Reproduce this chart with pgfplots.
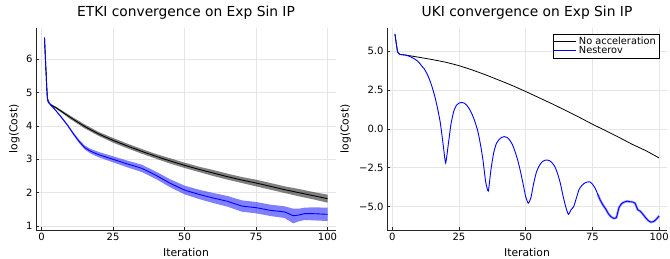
\documentclass[border=0pt]{standalone}
\usepackage{fontspec}
\setmainfont{DejaVu Sans}
\usepackage{pgfplots}
\pgfplotsset{compat=1.18}
\usepackage{pgfplotstable}

\definecolor{gridc}{RGB}{229,229,229}

% ETKI, no acceleration: mean line
\pgfplotstableread{
it m
1 6.65
2 4.85
3 4.65
5 4.55
10 4.26
15 3.99
20 3.76
25 3.57
30 3.40
35 3.24
40 3.09
45 2.95
50 2.82
55 2.70
60 2.59
65 2.48
70 2.38
75 2.29
80 2.19
85 2.09
90 2.00
95 1.91
100 1.82
}\etkiplain

% ETKI, no acceleration: band outline (upper forward, lower back)
\pgfplotstableread{
it v
1 6.65
2 4.86
3 4.67
5 4.58
10 4.31
15 4.05
20 3.82
25 3.64
30 3.47
35 3.31
40 3.16
45 3.03
50 2.90
55 2.78
60 2.68
65 2.57
70 2.47
75 2.39
80 2.29
85 2.19
90 2.11
95 2.02
100 1.94
100 1.70
95 1.80
90 1.89
85 1.99
80 2.09
75 2.19
70 2.29
65 2.39
60 2.50
55 2.62
50 2.74
45 2.87
40 3.02
35 3.17
30 3.33
25 3.50
20 3.70
15 3.93
10 4.21
5 4.52
3 4.63
2 4.84
1 6.65
}\etkiplainband

% ETKI, Nesterov: mean line
\pgfplotstableread{
it m
1 6.65
2 4.85
3 4.65
5 4.46
7 4.25
9 4.03
11 3.78
13 3.55
15 3.36
17 3.25
20 3.14
25 3.00
30 2.86
35 2.73
40 2.52
45 2.28
50 2.08
55 1.95
60 1.84
65 1.74
70 1.60
75 1.55
80 1.47
85 1.42
88 1.31
90 1.33
92 1.37
95 1.37
100 1.35
}\etkinest

% ETKI, Nesterov: band outline
\pgfplotstableread{
it v
1 6.65
2 4.86
3 4.67
5 4.48
7 4.28
9 4.06
11 3.82
13 3.60
15 3.42
17 3.32
20 3.22
25 3.09
30 2.96
35 2.84
40 2.63
45 2.40
50 2.21
55 2.09
60 1.99
65 1.90
70 1.77
75 1.72
80 1.64
85 1.59
88 1.52
90 1.52
92 1.55
95 1.56
100 1.55
100 1.15
95 1.17
92 1.18
90 1.14
88 1.08
85 1.24
80 1.30
75 1.38
70 1.43
65 1.58
60 1.69
55 1.81
50 1.95
45 2.16
40 2.41
35 2.62
30 2.76
25 2.91
20 3.06
17 3.18
15 3.30
13 3.50
11 3.74
9 4.00
7 4.22
5 4.44
3 4.63
2 4.84
1 6.65
}\etkinestband

\pgfplotstableread{
it m
1 6.10
2 4.95
3 4.78
5 4.74
10 4.60
15 4.45
20 4.28
25 4.06
30 3.78
35 3.47
40 3.13
45 2.78
50 2.40
55 2.00
60 1.60
65 1.18
70 0.75
75 0.30
80 -0.12
85 -0.55
90 -1.00
95 -1.40
100 -1.87
}\ukiplain

\pgfplotstableread{
it m
1 6.10
2 4.95
3 4.78
5 4.74
7 4.62
9 4.42
10 4.27
11 4.05
12 3.85
13 3.55
14 3.15
15 2.65
16 2.05
17 1.30
18 0.40
19 -0.90
20 -2.20
21 -1.00
22 0.30
23 1.10
24 1.50
25 1.65
26 1.70
27 1.65
28 1.50
29 1.25
30 0.90
31 0.45
32 -0.10
33 -0.95
34 -2.00
35 -3.40
36 -4.00
37 -2.60
38 -1.55
39 -0.95
40 -0.70
41 -0.55
42 -0.50
43 -0.55
44 -0.72
45 -1.00
46 -1.45
47 -2.00
48 -2.70
49 -3.50
50 -4.35
51 -4.78
52 -4.40
53 -3.50
54 -2.80
55 -2.40
56 -2.15
57 -2.03
58 -2.00
59 -2.05
60 -2.20
61 -2.45
62 -2.90
63 -3.50
64 -4.30
65 -5.00
66 -5.50
67 -5.20
68 -5.00
69 -4.45
70 -3.90
71 -3.65
72 -3.50
73 -3.42
74 -3.40
75 -3.55
76 -3.80
77 -4.20
78 -4.60
79 -4.90
80 -5.15
81 -5.45
82 -5.65
83 -5.75
84 -5.70
85 -5.05
86 -4.80
87 -4.70
88 -4.65
89 -4.68
90 -4.70
91 -4.78
92 -5.20
93 -5.30
94 -5.50
95 -5.72
96 -5.90
97 -6.00
98 -5.95
99 -5.80
100 -5.60
}\ukinest

\pgfplotsset{
  juliastyle/.style={
    scale only axis,
    height=202pt,
    axis x line*=bottom,
    axis y line*=left,
    axis line style={line width=0.8pt, black!85},
    xmin=-1.97, xmax=102.97,
    xtick={0,25,50,75,100},
    xticklabels={0,25,50,75,100},
    grid=major,
    major grid style={gridc, line width=0.6pt},
    tick align=inside,
    major tick length=2.5pt,
    tick style={black!85, line width=0.6pt},
    ticklabel style={font=\fontsize{10}{10}\selectfont},
    label style={font=\fontsize{10.8}{11}\selectfont},
    title style={font=\fontsize{13.8}{14}\selectfont, at={(axis description cs:0.5,1)}, anchor=base, yshift=5.3pt},
    xlabel style={at={(axis description cs:0.5,-0.109)}, anchor=center},
  }
}

\begin{document}
\begin{tikzpicture}
\path[use as bounding box] (0pt,0pt) rectangle (670pt,259pt);

\begin{axis}[juliastyle,
  at={(36pt,29pt)}, anchor=south west,
  width=300pt,
  ymin=0.88, ymax=6.94,
  ytick={1,2,3,4,5,6},
  yticklabels={1,2,3,4,5,6},
  title={ETKI convergence on Exp Sin IP},
  xlabel={Iteration},
  ylabel={log(Cost)},
  ylabel style={at={(axis description cs:-0.0717,0.5)}, anchor=center},
]
\addplot[fill=black, fill opacity=0.5, draw=none, forget plot] table[x=it, y=v] {\etkiplainband} -- cycle;
\addplot[fill=blue, fill opacity=0.5, draw=none, forget plot] table[x=it, y=v] {\etkinestband} -- cycle;
\addplot[draw=black, line width=0.9pt, smooth, tension=0.3] table[x=it, y=m] {\etkiplain};
\addplot[draw=blue, line width=0.9pt, smooth, tension=0.3] table[x=it, y=m] {\etkinest};
\end{axis}

\begin{axis}[juliastyle,
  at={(387pt,29pt)}, anchor=south west,
  width=280pt,
  ymin=-6.5, ymax=6.48,
  ytick={-5,-2.5,0,2.5,5},
  yticklabels={−5.0,−2.5,0.0,2.5,5.0},
  title={UKI convergence on Exp Sin IP},
  xlabel={Iteration},
  ylabel={log(Cost)},
  ylabel style={at={(axis description cs:-0.1475,0.5)}, anchor=center},
  legend style={at={(axis description cs:1,1)}, anchor=north east, xshift=-8pt, yshift=-6pt,
    font=\fontsize{9.8}{10}\selectfont, inner xsep=1pt, inner ysep=0.5pt,
    row sep=-3pt},
  legend image code/.code={\draw[#1] (-2pt,0pt) -- (20pt,0pt);},
  legend cell align=left,
]
\addplot[draw=blue, opacity=0.35, line width=2.4pt, forget plot, restrict x to domain=77:100] table[x=it, y=m] {\ukinest};
\addplot[draw=black, line width=0.8pt, smooth, tension=0.3, forget plot] table[x=it, y=m] {\ukiplain};
\addplot[draw=blue, line width=0.9pt, smooth, tension=0.3, forget plot] table[x=it, y=m] {\ukinest};
\addlegendimage{black, line width=1pt}
\addlegendentry{No acceleration}
\addlegendimage{blue, line width=1pt}
\addlegendentry{Nesterov}
\end{axis}
\end{tikzpicture}
\end{document}
